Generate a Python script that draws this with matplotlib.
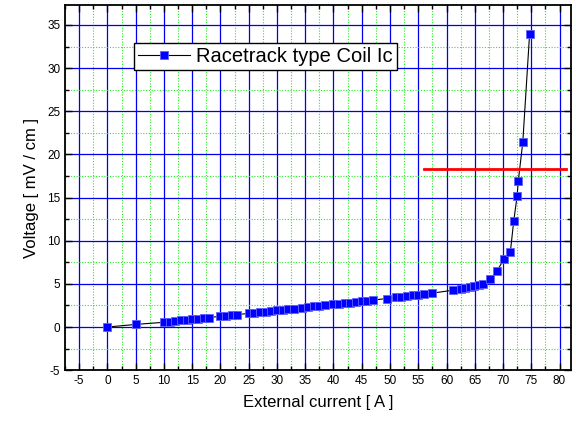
import numpy as np
import matplotlib.pyplot as plt
from matplotlib.ticker import MultipleLocator

plt.rcParams["font.family"] = ["Liberation Sans", "DejaVu Sans"]
plt.rcParams["axes.unicode_minus"] = False

# measured I-V curve of the coil
current = [0, 5, 10, 11, 12, 13, 14, 15, 16, 17, 18, 20, 21, 22, 23,
           25, 26, 27, 28, 29, 30, 31, 32, 33, 34.5, 35.5, 36.5, 37.5, 38.5,
           40, 41, 42, 43, 44, 45, 46, 47, 49.4, 51, 52, 53, 54, 55, 56, 57.4,
           61.2, 62.5, 63.3, 64.1, 64.9, 65.7, 66.5, 67.7, 68.9, 70.2,
           71.3, 71.9, 72.5, 72.7, 73.5, 74.7]
voltage = [0, 0.3, 0.55, 0.62, 0.69, 0.76, 0.83, 0.90, 0.97, 1.04, 1.10, 1.24,
           1.30, 1.37, 1.44, 1.58, 1.65, 1.72, 1.79, 1.86, 1.93, 2.00, 2.07,
           2.14, 2.24, 2.31, 2.38, 2.45, 2.52, 2.63, 2.70, 2.77, 2.84, 2.91,
           2.98, 3.05, 3.12, 3.30, 3.45, 3.53, 3.60, 3.67, 3.75, 3.82, 3.92,
           4.27, 4.38, 4.48, 4.60, 4.73, 4.88, 5.04, 5.58, 6.45, 7.9,
           8.7, 12.3, 15.2, 16.9, 21.4, 33.9]

# criterion line
crit_x = [56, 81.2]
crit_y = [18.26, 18.26]

fig = plt.figure(figsize=(5.76, 4.25), dpi=100)
ax = fig.add_axes([0.113, 0.129, 0.878, 0.859])

ax.set_axisbelow(True)
ax.xaxis.set_major_locator(MultipleLocator(5))
ax.xaxis.set_minor_locator(MultipleLocator(2.5))
ax.yaxis.set_major_locator(MultipleLocator(5))
ax.yaxis.set_minor_locator(MultipleLocator(2.5))
ax.grid(which="minor", color="#22ee22", linestyle=(0, (1, 1.5)), linewidth=0.8)
ax.grid(which="major", color="#0000ee", linestyle="-", linewidth=0.9)

ax.plot(current, voltage, color="black", linewidth=0.8, marker="s",
        markersize=5.8, markerfacecolor="#0000ff", markeredgecolor="#6060ff",
        markeredgewidth=0.6, label="Racetrack type Coil Ic", zorder=3)
ax.plot(crit_x, crit_y, color="#ff0000", linewidth=2, zorder=4)

ax.set_xlim(-7.5, 82)
ax.set_ylim(-5, 37.3)
ax.set_xticks(np.arange(-5, 81, 5))
ax.set_yticks(np.arange(-5, 36, 5))

ax.tick_params(which="both", direction="in", top=True, right=True,
               labelsize=8.5, width=1)
ax.tick_params(which="major", length=5)
ax.tick_params(which="minor", length=3)
for s in ax.spines.values():
    s.set_linewidth(1.3)

ax.set_xlabel("External current [ A ]", fontsize=12, labelpad=6)
ax.set_ylabel("Voltage [ mV / cm ]", fontsize=12, labelpad=6)

leg = ax.legend(loc="upper left", bbox_to_anchor=(0.136, 0.895), fontsize=14.5,
                frameon=True, fancybox=False, framealpha=1, borderpad=0.2,
                handlelength=2.6, handletextpad=0.3, borderaxespad=0)
leg.get_frame().set_edgecolor("black")
leg.get_frame().set_linewidth(1)

fig.savefig("out.png", dpi=100)
